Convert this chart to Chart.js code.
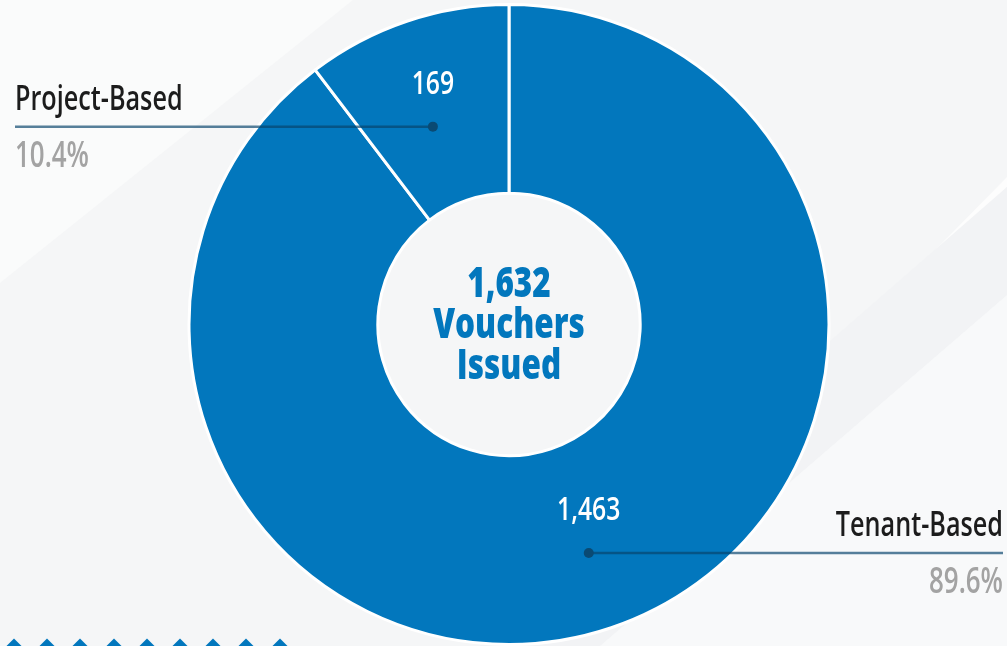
<!DOCTYPE html>
<html>
<head>
<meta charset="utf-8">
<script src="https://cdn.jsdelivr.net/npm/chart.js@4"></script>
<style>
  html, body { margin: 0; padding: 0; background: #f5f6f7; }
  #wrap { position: relative; width: 1007px; height: 646px; overflow: hidden; }
  .diamond {
    position: absolute; width: 12px; height: 12px; background: #0277bd;
    transform: rotate(45deg);
  }
</style>
</head>
<body>
<div id="wrap">
  <canvas id="chart"></canvas>
</div>
<script>
const categories = ["Tenant-Based", "Project-Based"];
const vouchers = [1463, 169];
const centerLines = ["Vouchers", "Issued"];

const blue = "#0277bd";
const font = "'Open Sans', 'Noto Sans', sans-serif";

// which side each callout's label sits on, how far out the dot sits,
// and a small nudge (degrees) off the slice's middle angle
const calloutSide = ["right", "left"];
const calloutRadius = [242, 212];
const calloutNudge = [-0.6, -2.4];

const total = vouchers.reduce((a, b) => a + b, 0);
const fmt = (v) => v.toLocaleString("en-US");
const pct = (v) => `${((v / total) * 100).toFixed(1)}%`;

// no condensed face is installed, so squash a normal one sideways
function squeezedText(ctx, text, x, y, align, fnt, color, squeeze) {
  ctx.save();
  ctx.translate(x, y);
  ctx.scale(squeeze, 1);
  ctx.font = fnt;
  ctx.fillStyle = color;
  ctx.textAlign = align;
  ctx.textBaseline = "alphabetic";
  ctx.fillText(text, 0, 0);
  ctx.restore();
}

// soft diagonal panels behind the chart
const backdrop = {
  id: "backdrop",
  beforeDraw(chart) {
    const { ctx, width, height } = chart;
    const poly = (pts, color) => {
      ctx.beginPath();
      ctx.moveTo(pts[0][0], pts[0][1]);
      pts.slice(1).forEach((p) => ctx.lineTo(p[0], p[1]));
      ctx.closePath();
      ctx.fillStyle = color;
      ctx.fill();
    };
    ctx.save();
    ctx.fillStyle = "#f5f6f7";
    ctx.fillRect(0, 0, width, height);
    poly([[0, 0], [353, 0], [0, 283]], "#fafbfb");
    poly([[width, 177], [width, 187], [640, 560], [630, 560]], "#fdfdfd");
    poly([[width, 187], [width, 295], [600, 646], [480, 646]], "#f2f3f5");
    poly([[width, 295], [width, height], [600, height]], "#f8f9fa");
    ctx.restore();
  },
};

const callouts = {
  id: "callouts",
  afterDatasetsDraw(chart) {
    const { ctx, width } = chart;
    const meta = chart.getDatasetMeta(0);
    meta.data.forEach((arc, i) => {
      const { startAngle, endAngle, x, y } = arc.getProps(
        ["startAngle", "endAngle", "x", "y"], true);
      const mid = (startAngle + endAngle) / 2 + (calloutNudge[i] * Math.PI) / 180;
      const px = x + Math.cos(mid) * calloutRadius[i];
      const py = y + Math.sin(mid) * calloutRadius[i];
      const left = calloutSide[i] === "left";
      const edge = left ? 15 : width - 4;

      ctx.save();
      ctx.strokeStyle = "rgba(8, 68, 108, 0.68)";
      ctx.lineWidth = 2.5;
      ctx.beginPath();
      ctx.moveTo(edge, py);
      ctx.lineTo(px, py);
      ctx.stroke();
      ctx.fillStyle = "#0a4a73";
      ctx.beginPath();
      ctx.arc(px, py, 5, 0, Math.PI * 2);
      ctx.fill();
      ctx.restore();

      const align = left ? "left" : "right";
      squeezedText(ctx, categories[i], edge, py - 17, align,
        `600 35px ${font}`, "#1c1c1c", 0.72);
      squeezedText(ctx, pct(vouchers[i]), edge, py + 40, align,
        `600 36px ${font}`, "#a3a3a3", 0.72);
      squeezedText(ctx, fmt(vouchers[i]), px, py - 33, "center",
        `600 33px ${font}`, "#ffffff", 0.75);
    });

    const c = meta.data[0];
    const lines = [fmt(total), ...centerLines];
    lines.forEach((t, k) => {
      squeezedText(ctx, t, c.x, c.y - 28 + k * 41, "center",
        `800 42px ${font}`, blue, 0.75);
    });
  },
};

// eslint-disable-next-line no-new
new Chart(document.getElementById("chart"), {
  type: "doughnut",
  plugins: [backdrop, callouts],
  data: {
    labels: categories,
    datasets: [
      {
        data: vouchers,
        backgroundColor: blue,
        borderColor: "#ffffff",
        borderWidth: 3,
        hoverOffset: 0,
      },
    ],
  },
  options: {
    animation: false,
    responsive: true,
    maintainAspectRatio: false,
    cutout: "41%",
    layout: {
      padding: { top: 3, bottom: 0, left: 11, right: 0 },
    },
    plugins: {
      legend: { display: false },
      tooltip: { enabled: false },
    },
  },
});

const wrap = document.getElementById("wrap");
for (let k = 0; k < 9; k++) {
  const d = document.createElement("div");
  d.className = "diamond";
  d.style.left = `${14 + k * 33.2 - 6}px`;
  d.style.top = `${641}px`;
  wrap.appendChild(d);
}
</script>
</body>
</html>
